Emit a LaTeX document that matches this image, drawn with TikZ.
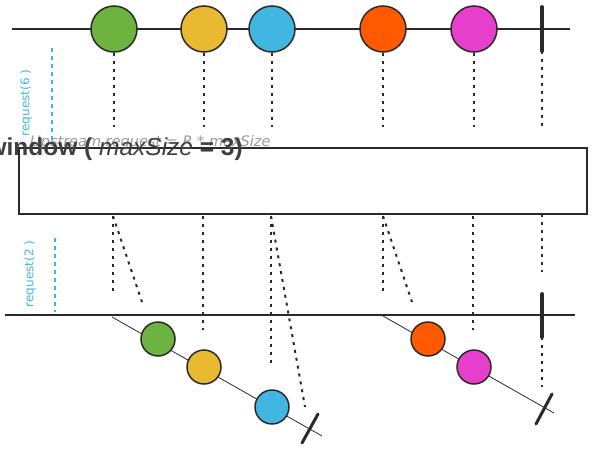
\documentclass[tikz,border=0pt]{standalone}
\usepackage{fontspec}
\setmainfont{DejaVu Sans}
\newfontfamily\titlefont{Liberation Sans}
\definecolor{cgreen}{HTML}{6DB33F}
\definecolor{cyellow}{HTML}{E8B931}
\definecolor{cblue}{HTML}{41B6E0}
\definecolor{corange}{HTML}{FF5A00}
\definecolor{cmag}{HTML}{E83ECC}
\definecolor{ink}{HTML}{2B2A29}
\tikzset{
  bigmarble/.style={circle,draw=ink,line width=1.5pt,minimum size=46pt,inner sep=0pt},
  smallmarble/.style={circle,draw=ink,line width=1.5pt,minimum size=34pt,inner sep=0pt},
  timeline/.style={draw=ink,line width=2pt},
  thinline/.style={draw=ink,line width=0.8pt},
  dotline/.style={draw=ink,line width=2pt,dash pattern=on 3pt off 5pt},
  reqline/.style={draw=cblue,line width=2pt,dash pattern=on 4pt off 4pt},
  bar/.style={draw=ink,line width=4pt,line cap=round},
  reqtext/.style={text=cblue,rotate=90,font=\fontsize{12}{14}\selectfont,inner sep=0pt},
}
\begin{document}
\begin{tikzpicture}[x=1pt,y=-1pt]
\useasboundingbox (0,0) rectangle (607,450);
% top timeline
\coordinate (tl0) at (12,29);
\coordinate (tl1) at (570,29);
\draw[timeline] (tl0) -- (tl1);
\node[bigmarble,fill=cgreen] (g) at (114,29) {};
\node[bigmarble,fill=cyellow] (y) at (204,29) {};
\node[bigmarble,fill=cblue] (b) at (272,29) {};
\node[bigmarble,fill=corange] (o) at (383,29) {};
\node[bigmarble,fill=cmag] (m) at (474,29) {};
\coordinate (cT) at (542,7);
\coordinate (cB) at (542,51);
\draw[bar] (cT) -- (cB);
% dotted down to operator
\coordinate (gd) at (114,127);
\coordinate (yd) at (204,127);
\coordinate (bd) at (272,127);
\coordinate (od) at (383,127);
\coordinate (md) at (474,127);
\coordinate (cd) at (542,127);
\draw[dotline] (g.south) -- (gd);
\draw[dotline] (y.south) -- (yd);
\draw[dotline] (b.south) -- (bd);
\draw[dotline] (o.south) -- (od);
\draw[dotline] (m.south) -- (md);
\draw[dotline] (cB) -- (cd);
% request(6)
\coordinate (r6a) at (52,48);
\coordinate (r6b) at (52,140);
\draw[reqline] (r6a) -- (r6b);
\node[reqtext] (r6) at (26,103) {request(6 )};
% operator box
\node[draw=ink,line width=1.5pt,minimum width=568pt,minimum height=66pt,inner sep=0pt] (box) at (303,181) {};
\node[text=gray!80,font=\itshape\fontsize{14.5}{16}\selectfont,anchor=west,inner sep=0pt] (up) at (30,142) {Upstream request = R * maxSize};
\node[text=ink!90,font=\titlefont\bfseries\fontsize{24.5}{26}\selectfont,anchor=base east,inner sep=0pt] (title) at (243,155) {window ( {\mdseries\itshape maxSize} = 3)};
% below the box
\coordinate (g1) at (113,216); \coordinate (g2) at (113,292); \coordinate (g3) at (142,302);
\draw[dotline] (g1) -- (g2);
\draw[dotline] (g1) -- (g3);
\coordinate (y1) at (203,216); \coordinate (y2) at (203,330);
\draw[dotline] (y1) -- (y2);
\coordinate (b1) at (271,216); \coordinate (b2) at (271,365); \coordinate (b3) at (305,407);
\draw[dotline] (b1) -- (b2);
\draw[dotline] (b1) -- (b3);
\coordinate (o1) at (383,216); \coordinate (o2) at (383,292); \coordinate (o3) at (412,302);
\draw[dotline] (o1) -- (o2);
\draw[dotline] (o1) -- (o3);
\coordinate (m1) at (473,216); \coordinate (m2) at (473,330);
\draw[dotline] (m1) -- (m2);
\coordinate (c1) at (542,214); \coordinate (c2) at (542,272);
\draw[dotline] (c1) -- (c2);
% request(2)
\coordinate (r2a) at (55,238);
\coordinate (r2b) at (55,312);
\draw[reqline] (r2a) -- (r2b);
\node[reqtext] (r2) at (30,274) {request(2 )};
% bottom timeline
\coordinate (bl0) at (5,315);
\coordinate (bl1) at (575,315);
\draw[timeline] (bl0) -- (bl1);
\coordinate (cbT) at (542,294);
\coordinate (cbB) at (542,337);
\draw[bar] (cbT) -- (cbB);
\coordinate (cbd) at (542,387);
\draw[dotline] (cbB) -- (cbd);
% window 1
\coordinate (w1a) at (112,317);
\coordinate (w1b) at (322,436);
\draw[thinline] (w1a) -- (w1b);
\node[smallmarble,fill=cgreen] (sg) at (158,339) {};
\node[smallmarble,fill=cyellow] (sy) at (204,367) {};
\node[smallmarble,fill=cblue] (sb) at (272,407) {};
\coordinate (t1a) at (302,443); \coordinate (t1b) at (318,414);
\draw[bar,line width=3pt] (t1a) -- (t1b);
% window 2
\coordinate (w2a) at (383,316);
\coordinate (w2b) at (554,413);
\draw[thinline] (w2a) -- (w2b);
\node[smallmarble,fill=corange] (so) at (428,339) {};
\node[smallmarble,fill=cmag] (sm) at (474,367) {};
\coordinate (t2a) at (536,424); \coordinate (t2b) at (552,394);
\draw[bar,line width=3pt] (t2a) -- (t2b);
\end{tikzpicture}
\end{document}
